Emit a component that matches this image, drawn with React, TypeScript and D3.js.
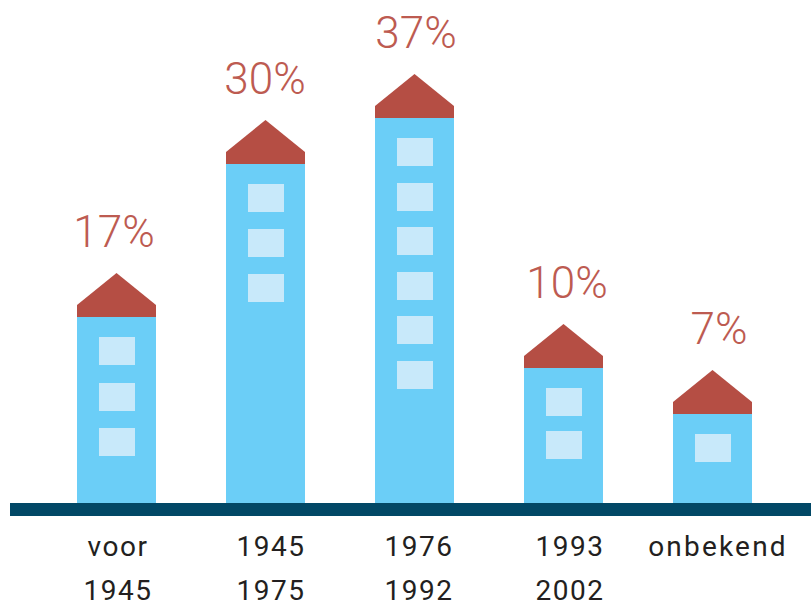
import React from "react";
import * as d3 from "d3";

const periods = ["voor 1945", "1945 1975", "1976 1992", "1993 2002", "onbekend"];
const shares = [17, 30, 37, 10, 7];
const floors = [3, 3, 6, 2, 1];
// The infographic's building heights are not proportional to the share: these are the heights read per share.
const shareStops = [7, 10, 17, 30, 37];
const heightStops = [89, 135, 186, 339, 385];

const W = 811, H = 601;
const BASE = 503;
const pct = "#BD5B51";
const labelX = [118, 271, 419, 570, 718];
const pctX = [114, 265, 416, 567, 719];
const floorGap = [45.5, 45, 44.6, 43, 0];

export default function App() {
  const x = d3.scaleBand<string>().domain(periods).range([77, 752]).paddingInner(70 / 149).paddingOuter(0);
  const h = d3.scaleLinear().domain(shareStops).range(heightStops);
  const y = (v: number) => BASE - h(v);
  const bw = x.bandwidth();
  return (
    <svg width={W} height={H} viewBox={`0 0 ${W} ${H}`} style={{ position: "fixed", left: 0, top: 0, background: "#fff" }}>
      {periods.map((p, i) => {
        const x0 = x(p)!, top = y(shares[i]), cx = x0 + bw / 2;
        const roof = d3.line()([[x0, top], [x0, top - 12], [cx, top - 44], [x0 + bw, top - 12], [x0 + bw, top]]) + "Z";
        return (
          <g key={p}>
            <rect x={x0} y={top} width={bw} height={BASE - top} fill="#6BCEF7" />
            <path d={roof} fill="#B54E44" />
            {d3.range(floors[i]).map((f) => (
              <rect key={f} x={cx - 17.5} y={Math.round(top + 20 + f * floorGap[i])} width={36} height={28} fill="#C8E9FA" />
            ))}
            <text x={pctX[i]} y={top - 70} textAnchor="middle" fontFamily="Roboto" fontWeight={300} fontSize={44} fill={pct}>{shares[i]}%</text>
            {p.split(" ").map((t, k) => (
              <text key={k} x={labelX[i]} y={556 + k * 43.5} textAnchor="middle" fontFamily="Roboto" fontSize={28} letterSpacing={/\d/.test(t) ? 1.5 : t.length > 4 ? 2.2 : 1.5} fill="#231F20">{t}</text>
            ))}
          </g>
        );
      })}
      <rect x={10} y={BASE} width={W - 10} height={13} fill="#024866" />
    </svg>
  );
}
